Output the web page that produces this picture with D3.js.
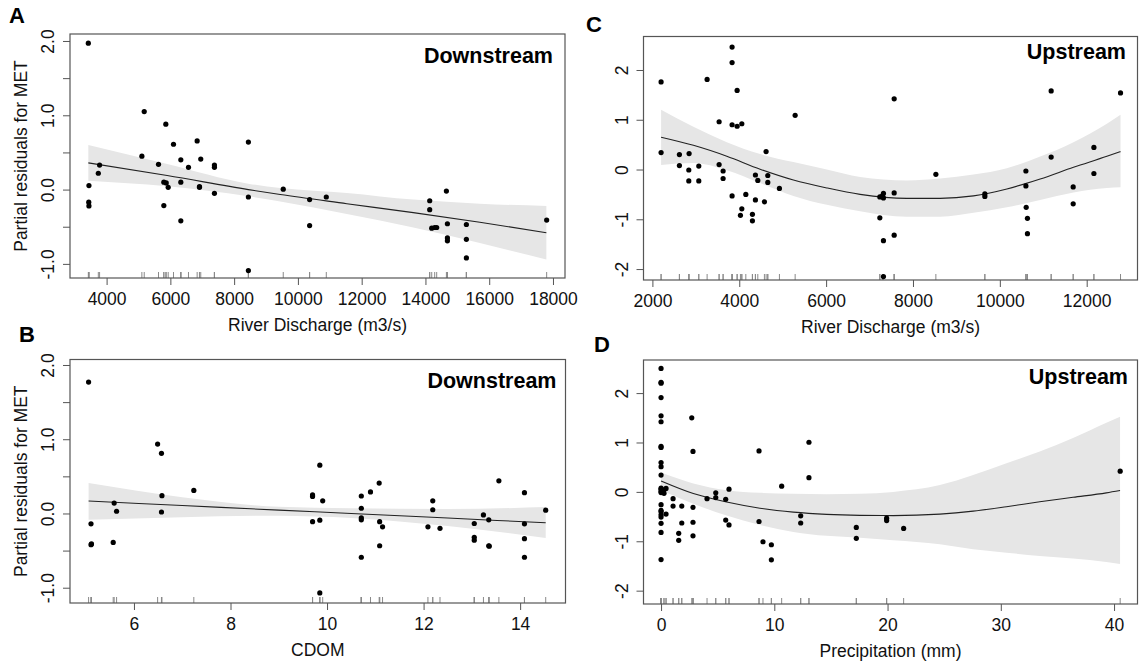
<!DOCTYPE html>
<html>
<head>
<meta charset="utf-8">
<script src="https://cdn.jsdelivr.net/npm/d3@7"></script>
<style>
body{margin:0;background:#fff}
svg{display:block;font-family:"Liberation Sans",Arial,sans-serif}
</style>
</head>
<body>
<div id="chart"></div>
<script>
// ---- A: downstream, river discharge ----
var aX = [3427,3446,3440,3446,3780,3740,5106,5180,5628,5857,5795,5870,5932,5795,6098,6328,6568,6328,6328,6840,6953,6913,6913,7382,7382,7382,8447,8447,8447,9540,10367,10367,10890,14134,14134,14197,14290,14353,14657,14689,14689,14689,15284,15284,15284,17802]
var aY = [1.97,0.054,-0.17,-0.22,0.33,0.22,0.45,1.05,0.34,0.88,0.10,0.09,0.03,-0.215,0.61,0.40,0.30,0.10,-0.42,0.655,0.41,0.04,0.03,0.33,0.30,-0.05,0.64,-0.10,-1.09,0.005,-0.135,-0.485,-0.10,-0.15,-0.27,-0.52,-0.51,-0.51,-0.02,-0.46,-0.65,-0.69,-0.47,-0.67,-0.92,-0.41]
var aFitX = [3427,5900,8444,9446,11534,13619,15706,17793]
var aFit  = [0.36,0.19,0.0,-0.067,-0.19,-0.31,-0.44,-0.58]
var aHi   = [0.60,0.345,0.08,0.02,-0.045,-0.135,-0.19,-0.22]
var aLo   = [0.12,0.045,-0.09,-0.16,-0.33,-0.51,-0.72,-0.94]

// ---- B: downstream, CDOM ----
var bX = [5.06,5.11,5.11,5.12,5.57,5.59,5.64,6.49,6.57,6.58,6.57,7.24,9.70,9.70,9.70,9.85,9.85,9.85,9.91,10.71,10.71,10.71,10.71,10.71,10.90,11.08,11.09,11.15,11.09,12.09,12.19,12.19,12.34,13.05,13.05,13.05,13.24,13.35,13.35,13.36,13.56,14.09,14.09,14.09,14.09,14.53]
var bY = [1.77,-0.14,-0.42,-0.41,-0.39,0.14,0.03,0.935,0.81,0.24,0.02,0.31,0.25,0.23,-0.11,0.65,-0.09,-1.07,0.17,0.235,0.07,-0.06,-0.085,-0.59,0.29,0.41,-0.11,-0.18,-0.435,-0.18,0.17,0.05,-0.20,-0.135,-0.32,-0.36,-0.02,-0.085,-0.435,-0.44,0.44,0.28,-0.14,-0.34,-0.59,0.045]
var bFitX = [5.06,7,9,10.5,12.5,14.53]
var bFit  = [0.167,0.107,0.045,0.0,-0.062,-0.125]
var bHi   = [0.41,0.22,0.09,0.07,0.06,0.086]
var bLo   = [-0.085,-0.05,-0.03,-0.06,-0.17,-0.33]

// ---- C: upstream, river discharge ----
var cX = [2200,2200,2622,2622,2845,2838,2838,3068,3068,3260,3536,3536,3628,3628,3835,3835,3835,3835,3951,3951,4059,4059,4027,4151,4303,4303,4372,4372,4427,4579,4618,4657,4657,4925,5287,7237,7237,7297,7320,7320,7320,7320,7567,7567,7567,8527,9655,9655,10600,10600,10607,10636,10636,11182,11182,11689,11689,12166,12166,12779]
var cY = [1.76,0.34,0.30,0.08,0.32,-0.01,-0.23,0.07,-0.23,1.81,0.96,0.10,-0.03,-0.18,2.46,2.15,0.90,-0.53,1.59,0.87,0.92,-0.79,-0.92,-0.50,-0.90,-1.03,-0.11,-0.61,-0.22,-0.65,0.36,-0.12,-0.26,-0.38,1.09,-0.55,-0.97,-0.53,-0.48,-0.57,-1.43,-2.15,1.42,-0.47,-1.32,-0.096,-0.49,-0.54,-0.03,-0.33,-0.76,-0.98,-1.29,1.58,0.25,-0.35,-0.69,0.445,-0.08,1.54]
var cFitX = [2200,2944,3713,4480,5247,6016,6783,7858,8626,9393,10162,10929,11696,12465,12779]
var cFit  = [0.65,0.486,0.267,0.007,-0.21,-0.37,-0.50,-0.58,-0.58,-0.53,-0.39,-0.19,0.045,0.265,0.36]
var cHi   = [1.20,0.86,0.55,0.31,0.15,0.0,-0.15,-0.22,-0.18,-0.10,0.027,0.26,0.55,0.92,1.10]
var cLo   = [0.09,0.13,-0.014,-0.27,-0.53,-0.71,-0.84,-0.95,-0.95,-0.87,-0.76,-0.61,-0.46,-0.37,-0.355]

// ---- D: upstream, precipitation ----
var dX = [0,0,0,0,0,0,0,0,0,0,0,0,0,0,0,0,0,0,0,0,0,0,0,0.26,0.44,0.26,0.44,1.06,1.06,1.56,1.56,1.83,1.83,2.71,2.82,2.82,2.82,2.82,4.06,4.83,4.83,5.71,5.71,6.0,6.0,8.65,8.65,9.0,9.74,9.74,10.65,12.33,12.33,13.06,13.06,17.24,17.24,19.92,19.92,21.42,40.54]
var dY = [2.50,2.22,2.20,1.91,1.54,1.42,0.92,0.90,0.595,0.51,0.34,0.075,0.055,0.014,-0.014,-0.26,-0.376,-0.40,-0.465,-0.51,-0.636,-0.82,-1.37,-0.03,0.07,0.04,-0.45,-0.137,-0.287,-0.84,-0.98,-0.287,-0.63,1.50,0.82,-0.315,-0.615,-0.89,-0.137,-0.02,-0.116,-0.15,-0.57,0.055,-0.67,0.83,-0.60,-1.01,-1.07,-1.375,0.116,-0.485,-0.63,1.005,0.287,-0.72,-0.94,-0.533,-0.58,-0.74,0.42]
var dFitX = [0,2.85,5.79,8.73,11.68,14.62,17.56,20.5,24.62,27.56,30.5,33.44,36.38,39.32,40.53]
var dFit  = [0.22,-0.034,-0.205,-0.33,-0.41,-0.455,-0.475,-0.48,-0.45,-0.39,-0.30,-0.20,-0.11,-0.02,0.027]
var dHi   = [0.39,0.17,0.034,-0.02,-0.04,-0.05,-0.04,0.0,0.137,0.34,0.58,0.82,1.09,1.40,1.52]
var dLo   = [0.034,-0.24,-0.48,-0.67,-0.81,-0.89,-0.93,-0.98,-1.06,-1.16,-1.23,-1.30,-1.35,-1.42,-1.46]

// ticks
var xTicksA = [4000,6000,8000,10000,12000,14000,16000,18000]
var xTicksB = [6,8,10,12,14]
var xTicksC = [2000,4000,6000,8000,10000,12000]
var xTicksD = [0,10,20,30,40]
var yTicksAB = [-1,-0.5,0,0.5,1,1.5,2]
var yLabelValsAB = [-1,0,1,2]
var yLabelsAB = ["-1.0","0.0","1.0","2.0"]
var yTicksCD = [-2,-1,0,1,2]
var yLabelValsCD = [-2,-1,0,1,2]
var yLabelsCD = ["-2","-1","0","1","2"]

var yTitle = "Partial residuals for MET"

var svg = d3.select("#chart").append("svg").attr("width",1139).attr("height",663)

var panels = [
	{letter:"A",lx:9,ly:23,tag:"Downstream",tagR:12,tagB:29,l:70,r:565,t:34,b:278,xd:[2852,18377],yd:[-1.19,2.094],
	 px:aX,py:aY,fx:aFitX,fy:aFit,hi:aHi,lo:aLo,xt:xTicksA,yt:yTicksAB,ylv:yLabelValsAB,yl:yLabelsAB,xtitle:"River Discharge (m3/s)",ytitle:true},
	{letter:"B",lx:19,ly:342,tag:"Downstream",tagR:9,tagB:28,l:70,r:565.5,t:359.5,b:603,xd:[4.675,14.94],yd:[-1.206,2.074],
	 px:bX,py:bY,fx:bFitX,fy:bFit,hi:bHi,lo:bLo,xt:xTicksB,yt:yTicksAB,ylv:yLabelValsAB,yl:yLabelsAB,xtitle:"CDOM",ytitle:true},
	{letter:"C",lx:586,ly:32,tag:"Upstream",tagR:11.5,tagB:22.5,l:643.5,r:1137.5,t:36.5,b:280,xd:[1795,13170],yd:[-2.22,2.673],
	 px:cX,py:cY,fx:cFitX,fy:cFit,hi:cHi,lo:cLo,xt:xTicksC,yt:yTicksCD,ylv:yLabelValsCD,yl:yLabelsCD,xtitle:"River Discharge (m3/s)",ytitle:false},
	{letter:"D",lx:594,ly:352,tag:"Upstream",tagR:9.5,tagB:23.5,l:643.5,r:1137.5,t:360,b:604,xd:[-1.55,42.07],yd:[-2.27,2.67],
	 px:dX,py:dY,fx:dFitX,fy:dFit,hi:dHi,lo:dLo,xt:xTicksD,yt:yTicksCD,ylv:yLabelValsCD,yl:yLabelsCD,xtitle:"Precipitation (mm)",ytitle:false}
]

panels.forEach(drawPanel)

function drawPanel(p){
	var x = d3.scaleLinear().domain(p.xd).range([p.l,p.r])
	var y = d3.scaleLinear().domain(p.yd).range([p.b,p.t])
	var g = svg.append("g")
	var idx = d3.range(p.fx.length)

	// confidence band
	g.append("path")
		.attr("d", d3.area().curve(d3.curveMonotoneX)
			.x(function(i){return x(p.fx[i])})
			.y0(function(i){return y(p.lo[i])})
			.y1(function(i){return y(p.hi[i])})(idx))
		.attr("fill","#e6e6e6")

	// fitted smooth
	g.append("path")
		.attr("d", d3.line().curve(d3.curveMonotoneX)
			.x(function(i){return x(p.fx[i])})
			.y(function(i){return y(p.fy[i])})(idx))
		.attr("fill","none")
		.attr("stroke","#222")
		.attr("stroke-width",1.1)

	// rug
	g.selectAll("line.rug").data(p.px).enter().append("line")
		.attr("class","rug")
		.attr("x1",function(d){return x(d)}).attr("x2",function(d){return x(d)})
		.attr("y1",p.b).attr("y2",p.b-6)
		.attr("stroke","#8a8a8a").attr("stroke-width",1)

	// points
	g.selectAll("circle").data(p.px).enter().append("circle")
		.attr("cx",function(d){return x(d)})
		.attr("cy",function(d,i){return y(p.py[i])})
		.attr("r",2.6)
		.attr("fill","#000")

	// box
	g.append("rect")
		.attr("x",p.l).attr("y",p.t).attr("width",p.r-p.l).attr("height",p.b-p.t)
		.attr("fill","none").attr("stroke","#555").attr("stroke-width",1.2)

	// x axis
	var xa = g.append("g").attr("transform","translate(0,"+p.b+")")
		.call(d3.axisBottom(x).tickValues(p.xt).tickSize(7).tickFormat(function(d){return String(d)}))
	xa.select(".domain").remove()
	xa.selectAll("line").attr("stroke","#555")
	xa.selectAll("text").attr("y",27).attr("dy",null)
		.attr("font-size","17.5px").attr("fill","#111")
	xa.attr("font-family",null)

	// y axis
	var ya = g.append("g").attr("transform","translate("+p.l+",0)")
		.call(d3.axisLeft(y).tickValues(p.yt).tickSize(7).tickFormat(function(d){
			var k = p.ylv.indexOf(d)
			return k>=0 ? p.yl[k] : ""
		}))
	ya.select(".domain").remove()
	ya.selectAll("line").attr("stroke","#555")
	ya.selectAll("text").attr("transform","rotate(-90)")
		.attr("x",0).attr("y",-16).attr("dy",null)
		.attr("text-anchor","middle")
		.attr("font-size","17.5px").attr("fill","#111")
	ya.attr("font-family",null)

	// axis titles
	g.append("text").text(p.xtitle)
		.attr("x",(p.l+p.r)/2).attr("y",p.b+52.5)
		.attr("text-anchor","middle").style("font-size","17.5px").attr("fill","#111")
	if(p.ytitle){
		g.append("text").text(yTitle)
			.attr("transform","translate("+(p.l-43)+","+((p.t+p.b)/2)+") rotate(-90)")
			.attr("text-anchor","middle").style("font-size","17.5px").attr("fill","#111")
	}

	// panel letter and site tag
	g.append("text").text(p.letter).attr("x",p.lx).attr("y",p.ly)
		.style("font-size","22px").style("font-weight","bold")
	g.append("text").text(p.tag).attr("x",p.r-p.tagR).attr("y",p.t+p.tagB)
		.attr("text-anchor","end")
		.style("font-size","21.5px").style("font-weight","bold")
}
</script>
</body>
</html>
